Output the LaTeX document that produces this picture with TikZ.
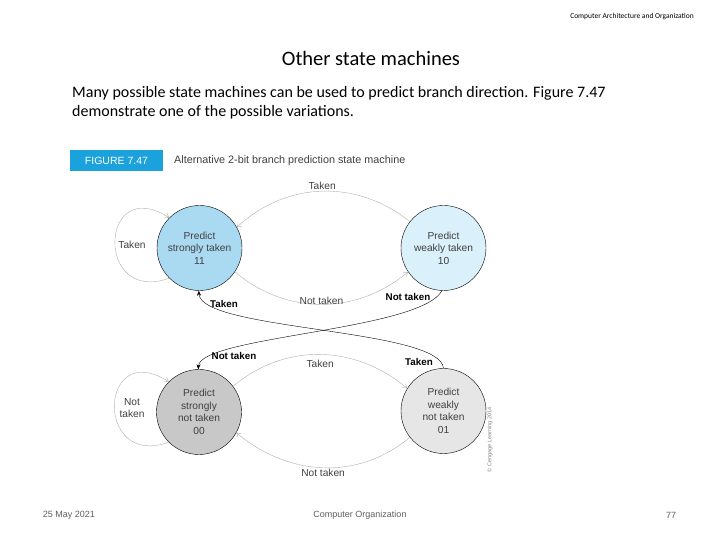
\documentclass[tikz,border=0pt]{standalone}
\usepackage{fontspec}
\setmainfont{Carlito}
\newfontfamily\figfont{Liberation Sans}
\usetikzlibrary{positioning, arrows.meta}
\definecolor{StrongTaken}{RGB}{170, 218, 242}
\definecolor{WeakTaken}{RGB}{218, 240, 250}
\definecolor{StrongNot}{RGB}{200, 200, 200}
\definecolor{WeakNot}{RGB}{230, 230, 230}
\definecolor{FigBlue}{RGB}{27, 161, 219}
\definecolor{ArcGray}{RGB}{175, 175, 175}
\definecolor{FootGray}{RGB}{95, 95, 95}

\begin{document}
\begin{tikzpicture}[x=1pt, y=1pt,
    state/.style={circle, draw, thin, minimum size=85pt, inner sep=0pt, align=center,
      font=\figfont\fontsize{10.2}{12.5}\selectfont, text=black!75},
    softarc/.style={ArcGray, -{Straight Barb[length=4pt, width=5pt]}},
    hardarc/.style={black, -{Stealth[length=5pt, width=4pt]}},
    lbl/.style={font=\figfont\fontsize{10.2}{12.5}\selectfont, text=black!75, inner sep=1pt, align=center},
    boldlbl/.style={font=\figfont\bfseries\fontsize{9.8}{11}\selectfont, inner sep=1pt}]
  \useasboundingbox (0,0) rectangle (720,540);

  % Slide header, title and text
  \node[font=\fontsize{7.5}{8}\selectfont] (header) at (632,523) {Computer Architecture and Organization};
  \node[font=\fontsize{20.5}{22}\selectfont] (title) at (371,482) {Other state machines};
  \node[font=\fontsize{16}{19}\selectfont, align=left, anchor=west, inner sep=0pt] (para) at (72,437.5)
    {Many possible state machines can be used to predict branch direction. Figure 7.47\\
     demonstrate one of the possible variations.};

  % Figure caption
  \node[fill=FigBlue, text=white, minimum width=93pt, minimum height=21pt, inner sep=0pt,
    font=\figfont\fontsize{10.5}{12}\selectfont] (figtag) at (116.5,379.5) {FIGURE 7.47};
  \node[font=\figfont\fontsize{10.8}{12}\selectfont, text=black!75, anchor=west, inner sep=0pt]
    (caption) at (174,379.5) {Alternative 2-bit branch prediction state machine};

  % States
  \node[state, fill=StrongTaken] (st) at (199.5,292) {Predict\\strongly taken\\11};
  \node[state, fill=WeakTaken] (wt) at (443.5,292) {Predict\\weakly taken\\10};
  \node[state, fill=StrongNot] (sn) at (199,128) {Predict\\strongly\\not taken\\00};
  \node[state, fill=WeakNot] (wn) at (443.5,129) {Predict\\weakly\\not taken\\01};

  % Transitions between the taken states
  \draw[softarc] (wt.142) to[out=141, in=43] node[lbl, above] (tk-top) {Taken} (st.29);
  \draw[softarc] (st.-34) to[out=-40, in=220] node[lbl, above, yshift=-1pt] (nt-top) {Not taken} (wt.214);
  \draw[softarc] (st.225) .. controls +(-75,-27) and +(-70,45) .. (st.135);
  \node[lbl] (tk-loop) at (132,295) {Taken};

  % Transitions between the not taken states
  \draw[softarc] (sn.37) to[out=40, in=140] node[lbl, below, yshift=-4pt] (tk-bot) {Taken} (wn.148);
  \draw[softarc] (wn.218) to[out=220, in=-40] node[lbl, below] (nt-bot) {Not taken} (sn.-29);
  \draw[softarc] (sn.225) .. controls +(-75,-27) and +(-70,45) .. (sn.135);
  \node[lbl] (nt-loop) at (132,132) {Not\\taken};

  % Crossing transitions
  \draw[hardarc] (wt.268) .. controls +(-22,-40) and +(2,33) .. (sn.91);
  \draw[hardarc] (wn.90) .. controls +(-3,40) and +(2,-40) .. (st.269);
  \node[boldlbl] (nt-a) at (408,243) {Not taken};
  \node[boldlbl] (tk-a) at (224,236) {Taken};
  \node[boldlbl] (nt-b) at (234,184) {Not taken};
  \node[boldlbl] (tk-b) at (419,178) {Taken};

  % Credit line
  \node[rotate=90, font=\figfont\fontsize{5.5}{6}\selectfont, text=black!50] (credit) at (490,100)
    {\textcopyright{} Cengage Learning 2014};

  % Footer
  \node[font=\figfont\fontsize{9}{10}\selectfont, text=FootGray] (date) at (69,25) {25 May 2021};
  \node[font=\figfont\fontsize{9}{10}\selectfont, text=FootGray] (course) at (360,25) {Computer Organization};
  \node[font=\figfont\fontsize{9}{10}\selectfont, text=FootGray] (page) at (671,25) {77};
\end{tikzpicture}
\end{document}
